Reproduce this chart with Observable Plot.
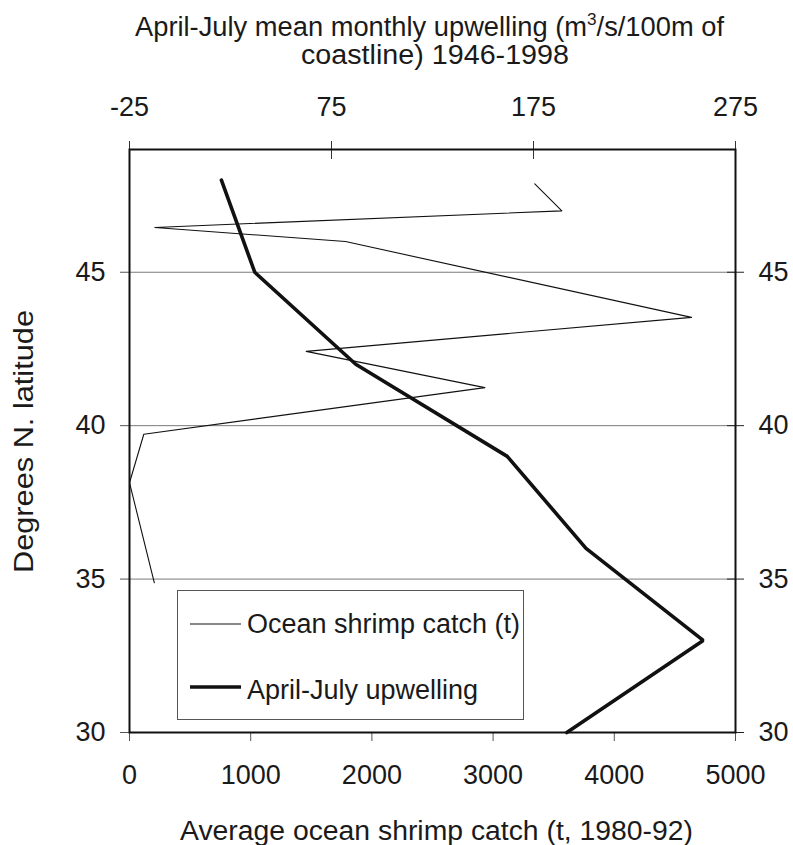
<!DOCTYPE html>
<html>
<head>
<meta charset="utf-8">
<script src="https://cdn.jsdelivr.net/npm/d3@7"></script>
<script src="https://cdn.jsdelivr.net/npm/@observablehq/plot@0.6"></script>
<style>
  html, body { margin: 0; padding: 0; background: #fff; }
  #chart svg { display: block; }
</style>
</head>
<body>
<div id="chart"></div>
<script>
// ---- data ----
const upLat = [48, 45, 42, 39, 36, 33, 30];
const upwelling = [20.5, 37, 87, 162, 201, 259, 191.5];          // m3/s/100m coastline (top axis)
const catchLat = [47.88, 47.0, 46.46, 46.0, 43.53, 42.42, 41.24, 39.72, 38.14, 34.88];
const catchT = [3344, 3567, 209, 1782, 4637, 1458, 2932, 118, 0, 205]; // t (bottom axis)
const xTicks = [0, 1000, 2000, 3000, 4000, 5000];
const topTicks = [-25, 75, 175, 275];
const yTicks = [30, 35, 40, 45];
const gridLats = [35, 40, 45];
const seriesNames = ["Ocean shrimp catch (t)", "April-July upwelling"];
const titleTop = ["April-July mean monthly upwelling (m", "3", "/s/100m of", "coastline) 1946-1998"];
const titleBottom = "Average ocean shrimp catch (t, 1980-92)";
const titleLeft = "Degrees N. latitude";

// top (upwelling) axis shares the bottom scale: -25..275 maps onto 0..5000
const upMin = -25, upMax = 275, catchMax = 5000;
const toX = u => (u - upMin) / (upMax - upMin) * catchMax;
const fromX = x => Math.round(x / catchMax * (upMax - upMin) + upMin);

const catchData = catchLat.map((lat, i) => ({lat, v: catchT[i]}));
const upData = upLat.map((lat, i) => ({lat, v: toX(upwelling[i])}));

const W = 793, H = 845;
const mL = 129, mR = 58, mT = 149, mB = 113;
const FONT = "'Liberation Sans', Arial, sans-serif";
const INK = "#1a1a1a";

const plot = Plot.plot({
  width: W, height: H,
  marginLeft: mL, marginRight: mR, marginTop: mT, marginBottom: mB,
  style: {fontFamily: FONT, fontSize: "27px", color: INK, background: "#fff"},
  x: {domain: [0, catchMax]},
  y: {domain: [30, 49]},
  marks: [
    Plot.gridY(gridLats, {stroke: "#7a7a7a", strokeOpacity: 1, strokeWidth: 1}),
    Plot.axisY({anchor: "left", ticks: yTicks, tickSize: 9, tickPadding: 15, label: null, stroke: "#555"}),
    Plot.axisY({anchor: "right", ticks: yTicks, tickSize: 8, tickPadding: 15, label: null, stroke: "#222"}),
    Plot.axisY({anchor: "right", ticks: yTicks, tickSize: -9, tickFormat: () => "", label: null, stroke: "#222"}),
    Plot.axisX({anchor: "bottom", ticks: xTicks, tickFormat: d => String(d), tickSize: 9, tickPadding: 23, label: null, stroke: "#555"}),
    Plot.axisX({anchor: "top", ticks: topTicks.map(toX), tickFormat: d => String(fromX(d)), tickSize: 9, tickPadding: 25, label: null, stroke: "#333"}),
    Plot.axisX({anchor: "top", ticks: topTicks.map(toX), tickFormat: () => "", tickSize: -9, label: null, stroke: "#333"}),
    Plot.line(catchData, {x: "v", y: "lat", stroke: "#111", strokeWidth: 1.1}),
    Plot.line(upData, {x: "v", y: "lat", stroke: "#111", strokeWidth: 3.6, strokeLinejoin: "miter"}),
    Plot.frame({stroke: "#111", strokeWidth: 2})
  ]
});
document.getElementById("chart").appendChild(plot);

const svg = d3.select(plot);
const txt = (x, y) => svg.append("text").attr("x", x).attr("y", y)
  .attr("text-anchor", "middle").attr("font-family", FONT).attr("font-size", 27).attr("fill", INK);

// top title with superscript
const t1 = txt(429.5, 36).attr("textLength", 589).attr("lengthAdjust", "spacingAndGlyphs");
t1.append("tspan").text(titleTop[0]);
t1.append("tspan").attr("dy", -11).attr("font-size", 17).text(titleTop[1]);
t1.append("tspan").attr("dy", 11).text(titleTop[2]);
txt(435, 64).attr("textLength", 268).attr("lengthAdjust", "spacingAndGlyphs").text(titleTop[3]);

// bottom title
txt(436.5, 840).attr("textLength", 513).attr("lengthAdjust", "spacingAndGlyphs").text(titleBottom);

// left title
svg.append("text").attr("transform", `translate(33,441.5) rotate(-90)`)
  .attr("text-anchor", "middle").attr("font-family", FONT).attr("font-size", 27).attr("fill", INK)
  .attr("textLength", 263).attr("lengthAdjust", "spacingAndGlyphs")
  .text(titleLeft);

// legend
const lg = svg.append("g");
lg.append("rect").attr("x", 177.5).attr("y", 590.5).attr("width", 346).attr("height", 129)
  .attr("fill", "#fff").attr("stroke", "#555").attr("stroke-width", 1);
[[1.1, 624, 633], [3.6, 687, 699]].forEach(([sw, ly, ty], i) => {
  lg.append("line").attr("x1", 190).attr("x2", 241).attr("y1", ly).attr("y2", ly)
    .attr("stroke", "#111").attr("stroke-width", sw);
  lg.append("text").attr("x", 247).attr("y", ty).attr("text-anchor", "start")
    .attr("font-family", FONT).attr("font-size", 27)
    .attr("fill", INK).text(seriesNames[i]);
});
</script>
</body>
</html>
